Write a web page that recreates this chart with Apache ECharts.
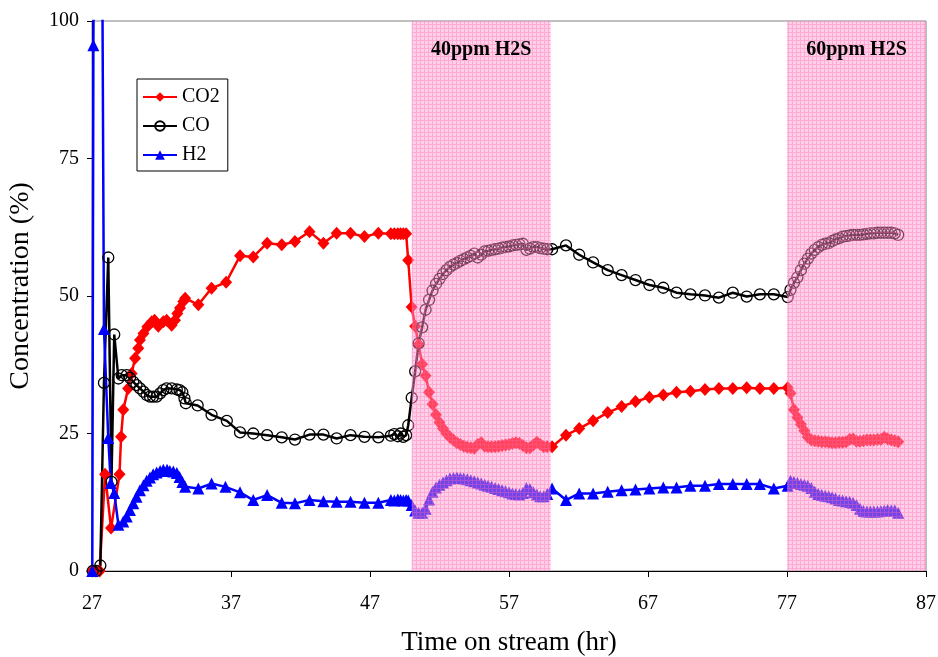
<!DOCTYPE html>
<html>
<head>
<meta charset="utf-8">
<script src="https://cdn.jsdelivr.net/npm/echarts/dist/echarts.min.js"></script>
<style>
  html, body { margin: 0; padding: 0; background: #ffffff; }
  #chart { width: 938px; height: 657px; }
</style>
</head>
<body>
<div id="chart"></div>
<script>
// ---- Start-up transient: [hour, %] pairs ----
const co2Start = [[27.0,0],[27.25,0],[27.55,0],[27.94,17.6],[28.37,7.8],[28.98,17.6],[29.09,24.4],[29.25,29.3],[29.6,33.2],[29.85,35.9],[30.1,38.7],[30.33,40.5],[30.45,42.0],[30.7,43.2],[30.98,44.4],[31.3,45.3],[31.5,45.6],[31.77,44.5],[32.13,45.3],[32.37,45.6],[32.73,44.7],[32.97,45.6],[33.14,46.8],[33.33,47.8],[33.57,49.0],[33.7,49.6],[34.65,48.4],[35.6,51.4],[36.65,52.5]];
const coStart = [[27.05,0],[27.3,0],[27.6,1.0],[27.86,34.2],[28.17,57.0],[28.4,16.2],[28.6,43.0],[28.9,35.0],[29.14,35.6],[29.5,35.6],[29.73,35.1],[29.97,34.4],[30.2,33.8],[30.45,33.2],[30.7,32.6],[30.93,32.0],[31.17,31.7],[31.4,31.7],[31.65,31.7],[31.9,32.3],[32.13,32.9],[32.37,33.2],[32.73,33.2],[33.1,33.0],[33.3,32.9],[33.5,32.5],[33.65,31.4],[33.75,30.5],[34.6,30.1],[35.6,28.4],[36.7,27.3]];
const h2Start = [[27.02,0],[27.1,95.6],[27.45,270],[27.86,44.0],[28.17,24.2],[28.35,16.0],[28.6,14.2],[28.9,8.4],[29.25,9.0],[29.5,9.9],[29.73,11.1],[29.97,12.3],[30.2,13.5],[30.45,14.7],[30.7,15.6],[30.93,16.4],[31.17,17.0],[31.4,17.6],[31.65,17.9],[31.9,18.2],[32.13,18.4],[32.4,18.4],[32.6,18.2],[32.85,18.1],[33.1,17.8],[33.3,17.1],[33.5,16.2],[33.7,15.3],[34.65,15.0],[35.6,15.9],[36.6,15.3]];

// ---- Steady run before the first H2S pulse ----
const sweepHours = [37.65,38.6,39.6,40.65,41.6,42.65,43.65,44.6,45.6,46.6,47.6,48.5,48.75,49.0,49.2,49.4,49.6];
const co2Sweep = [57.3,57.1,59.6,59.3,59.9,61.7,59.6,61.4,61.4,60.8,61.4,61.3,61.3,61.3,61.3,61.3,61.3];
const coSweep  = [25.2,25.0,24.7,24.3,23.9,24.8,24.8,24.1,24.7,24.4,24.3,24.6,24.9,24.5,25.0,24.4,24.7];
const h2Sweep  = [14.3,12.9,13.8,12.4,12.3,12.9,12.7,12.6,12.6,12.4,12.4,12.9,12.8,13.0,12.9,12.8,12.9];

// ---- 40 ppm H2S exposure ----
const exposure1Hours = [49.75,50.0,50.25,50.5,50.75,51.0,51.25,51.5,51.75,52.0,52.25,52.5,52.75,53.0,53.25,53.5,53.75,54.0,54.25,54.5,54.75,55.0,55.25,55.5,55.75,56.0,56.25,56.5,56.75,57.0,57.25,57.5,57.75,58.0,58.25,58.5,58.75,59.0,59.25,59.5,59.75];
const co2Exposure1 = [56.5,48.0,44.5,41.2,37.6,35.5,32.5,30.3,28.4,27.0,25.9,25.0,24.3,23.8,23.3,23.0,22.7,22.5,22.4,22.3,23.0,23.3,22.7,22.6,22.6,22.6,22.7,22.8,22.9,23.0,23.2,23.3,23.2,22.8,22.4,22.4,22.9,23.4,23.0,22.6,22.6];
const coExposure1  = [26.5,31.5,36.3,41.4,44.3,47.5,49.3,51.0,52.2,53.1,54.0,54.7,55.3,55.7,56.0,56.4,56.7,57.0,57.3,57.7,57.0,57.5,58.1,58.2,58.4,58.5,58.6,58.8,58.9,59.0,59.2,59.3,59.4,59.5,58.4,58.6,58.9,58.9,58.7,58.6,58.5];
const h2Exposure1  = [12.8,12.0,11.0,10.6,10.6,11.3,13.0,14.4,15.2,15.7,16.1,16.5,16.8,16.9,17.0,16.9,16.8,16.7,16.5,16.3,16.1,15.9,15.7,15.5,15.3,15.1,14.9,14.7,14.5,14.3,14.1,14.0,13.9,14.2,15.1,14.9,14.3,13.9,13.6,13.6,14.0];

// ---- Recovery without H2S ----
const recoveryHours = [60.1,61.1,62.05,63.05,64.1,65.1,66.1,67.1,68.1,69.05,70.05,71.1,72.1,73.1,74.1,75.05,76.05,77.05];
const co2Recovery = [22.6,24.7,25.9,27.3,28.8,29.9,30.8,31.6,32.0,32.5,32.7,33.0,33.2,33.2,33.3,33.2,33.2,33.3];
const coRecovery  = [58.5,59.2,57.5,56.1,54.7,53.8,52.9,52.0,51.5,50.6,50.3,50.1,49.7,50.6,49.9,50.3,50.3,49.8];
const h2Recovery  = [15.0,12.9,14.1,14.1,14.4,14.7,14.8,15.0,15.2,15.2,15.5,15.5,15.8,15.8,15.8,15.8,15.0,15.5];

// ---- 60 ppm H2S exposure ----
const exposure2Hours = [77.25,77.5,77.75,78.0,78.25,78.5,78.75,79.0,79.25,79.5,79.75,80.0,80.25,80.5,80.75,81.0,81.25,81.5,81.75,82.0,82.25,82.5,82.75,83.0,83.25,83.5,83.75,84.0,84.25,84.5,84.75,85.0];
const co2Exposure2 = [32.3,29.3,27.9,26.7,25.5,24.3,23.8,23.7,23.6,23.5,23.5,23.4,23.3,23.3,23.4,23.4,23.5,23.9,24.0,23.6,23.6,23.7,23.8,23.8,23.8,23.9,23.9,24.3,24.0,23.8,23.7,23.5];
const coExposure2  = [51.1,52.4,53.4,54.7,55.9,56.8,57.7,58.4,58.9,59.3,59.5,59.6,60.0,60.3,60.5,60.8,60.9,61.0,61.1,61.1,61.1,61.2,61.3,61.4,61.4,61.5,61.5,61.5,61.5,61.5,61.4,61.1];
const h2Exposure2  = [16.4,16.2,16.0,15.8,15.7,15.5,15.1,14.4,14.0,13.8,13.7,13.6,13.4,13.2,12.9,12.8,12.7,12.6,12.4,12.0,11.3,10.9,10.8,10.8,10.8,10.8,10.9,11.0,11.1,11.0,11.0,10.6];

// ---- H2S dosing periods [start hr, end hr, label] ----
const h2sPeriods = [[50, 60, '40ppm H2S'], [77, 87, '60ppm H2S']];

// ---- Axis ticks ----
const xTicks = { min: 27, max: 87, step: 10 };
const yTicks = { min: 0, max: 100, step: 25 };

function pairUp(hours, values) {
  return hours.map(function (h, i) { return [h, values[i]]; });
}
function buildSeries(start, sweep, exp1, rec, exp2) {
  return start.concat(
    pairUp(sweepHours, sweep),
    pairUp(exposure1Hours, exp1),
    pairUp(recoveryHours, rec),
    pairUp(exposure2Hours, exp2)
  );
}
const co2Data = buildSeries(co2Start, co2Sweep, co2Exposure1, co2Recovery, co2Exposure2);
const coData  = buildSeries(coStart, coSweep, coExposure1, coRecovery, coExposure2);
const h2Data  = buildSeries(h2Start, h2Sweep, h2Exposure1, h2Recovery, h2Exposure2);

// Translucent pink cross-hatch laid over the H2S bands
function makeHatch() {
  const c = document.createElement('canvas');
  c.width = 4; c.height = 4;
  const g = c.getContext('2d');
  g.fillStyle = 'rgba(255,150,205,0.45)';
  g.fillRect(0, 0, 4, 4);
  g.fillStyle = 'rgba(255,100,175,0.35)';
  g.fillRect(0, 0, 4, 1);
  g.fillRect(0, 1, 1, 3);
  return c;
}

const SERIF = '"Liberation Serif", "Times New Roman", serif';
const chart = echarts.init(document.getElementById('chart'), null, { renderer: 'canvas' });

chart.setOption({
  animation: false,
  backgroundColor: '#ffffff',
  grid: {
    left: 92, right: 12, top: 21, bottom: 86,
    show: true, borderColor: '#808080', borderWidth: 1,
    containLabel: false, outerBoundsMode: 'none'
  },
  legend: {
    data: ['CO2', 'CO', 'H2'],
    orient: 'vertical',
    left: 137, top: 79,
    padding: [8, 8, 6, 5],
    itemGap: 9,
    itemWidth: 34,
    itemHeight: 12,
    borderColor: '#000000',
    borderWidth: 1,
    backgroundColor: '#ffffff',
    selectedMode: false,
    textStyle: { fontFamily: SERIF, fontSize: 20, color: '#000000', padding: [0, 0, 0, 0] }
  },
  xAxis: {
    type: 'value',
    min: xTicks.min, max: xTicks.max, interval: xTicks.step,
    name: 'Time on stream (hr)',
    nameLocation: 'middle',
    nameGap: 58,
    nameTextStyle: { fontFamily: SERIF, fontSize: 27, color: '#000000' },
    axisLine: { show: true, onZero: false, lineStyle: { color: '#000000', width: 1 } },
    axisTick: { show: true, inside: false, length: 6, lineStyle: { color: '#000000' } },
    axisLabel: { fontFamily: SERIF, fontSize: 20, color: '#000000', margin: 23 },
    splitLine: { show: false }
  },
  yAxis: {
    type: 'value',
    min: yTicks.min, max: yTicks.max, interval: yTicks.step,
    name: 'Concentration (%)',
    nameLocation: 'middle',
    nameGap: 57,
    nameTextStyle: { fontFamily: SERIF, fontSize: 28, color: '#000000', padding: [0, 0, 0, 20] },
    axisLine: { show: true, onZero: false, lineStyle: { color: '#000000', width: 1 } },
    axisTick: { show: true, inside: false, length: 5, lineStyle: { color: '#000000' } },
    axisLabel: { fontFamily: SERIF, fontSize: 20, color: '#000000', margin: 13 },
    splitLine: { show: false }
  },
  series: [
    {
      name: 'CO2', type: 'line', data: co2Data, z: 2, clip: true,
      symbol: 'diamond', symbolSize: [12, 13],
      lineStyle: { color: '#ff0000', width: 2.5 },
      itemStyle: { color: '#ff0000' },
      emphasis: { disabled: true }
    },
    {
      name: 'CO', type: 'line', data: coData, z: 2, clip: true,
      symbol: 'circle', symbolSize: 11,
      lineStyle: { color: '#000000', width: 2.5 },
      itemStyle: { color: 'rgba(0,0,0,0)', borderColor: '#000000', borderWidth: 1.3 },
      emphasis: { disabled: true }
    },
    {
      name: 'H2', type: 'line', data: h2Data, z: 2, clip: true,
      symbol: 'triangle', symbolSize: 12,
      lineStyle: { color: '#0000ff', width: 2.5 },
      itemStyle: { color: '#0000ff' },
      emphasis: { disabled: true }
    },
    {
      type: 'line', data: [], z: 10, silent: true,
      markArea: {
        silent: true,
        z: 10,
        itemStyle: { color: { image: makeHatch(), repeat: 'repeat' } },
        label: {
          show: true, position: 'insideTop', distance: 19,
          fontFamily: SERIF, fontSize: 20, fontWeight: 'bold', color: '#000000'
        },
        data: h2sPeriods.map(function (p) {
          return [{ xAxis: p[0], name: p[2] }, { xAxis: p[1] }];
        })
      }
    }
  ]
});
</script>
</body>
</html>
